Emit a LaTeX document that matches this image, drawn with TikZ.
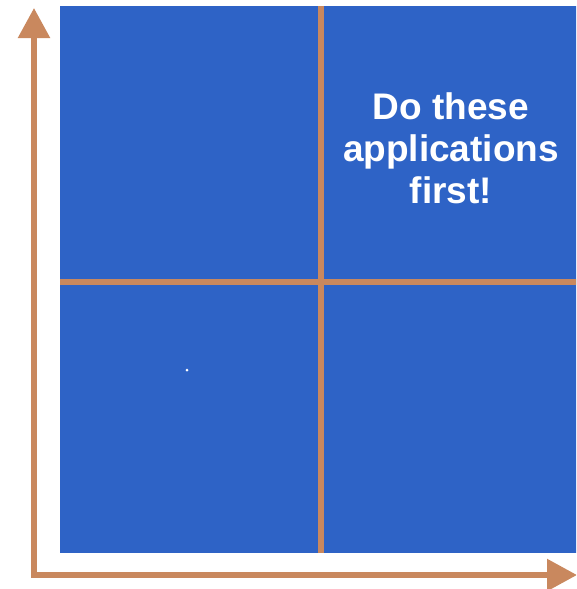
\documentclass[tikz,border=0pt]{standalone}
\usepackage{fontspec}
\setmainfont{Liberation Sans}
\usetikzlibrary{arrows.meta}
\definecolor{quadblue}{RGB}{46,99,198}
\definecolor{axisbrown}{RGB}{201,136,94}

\begin{document}
\begin{tikzpicture}[x=1pt,y=-1pt,
	axis/.style={line width=5.5pt,axisbrown,line join=miter,
		{Triangle[width=31pt,length=30pt]}-{Triangle[width=31pt,length=30pt]}},
	divider/.style={line width=6pt,axisbrown}]
	\clip (0,0) rectangle (576,589);
	\fill[quadblue] (60,6) rectangle (590,553);
	\coordinate (origin) at (34,575);
	\coordinate (ytip) at (34,8);
	\coordinate (xtip) at (577,575);
	\draw[axis] (ytip) -- (origin) -- (xtip);
	\coordinate (vtop) at (321,6);
	\coordinate (vbot) at (321,553);
	\coordinate (hleft) at (60,282);
	\coordinate (hright) at (590,282);
	\draw[divider] (vtop) -- (vbot);
	\draw[divider] (hleft) -- (hright);
	\node[text=white,font=\bfseries\fontsize{37}{42}\selectfont,align=center] (firsttext) at (451,148) {Do these\\applications\\first!};
	\fill[white] (187,370) circle (1.5);
\end{tikzpicture}
\end{document}
